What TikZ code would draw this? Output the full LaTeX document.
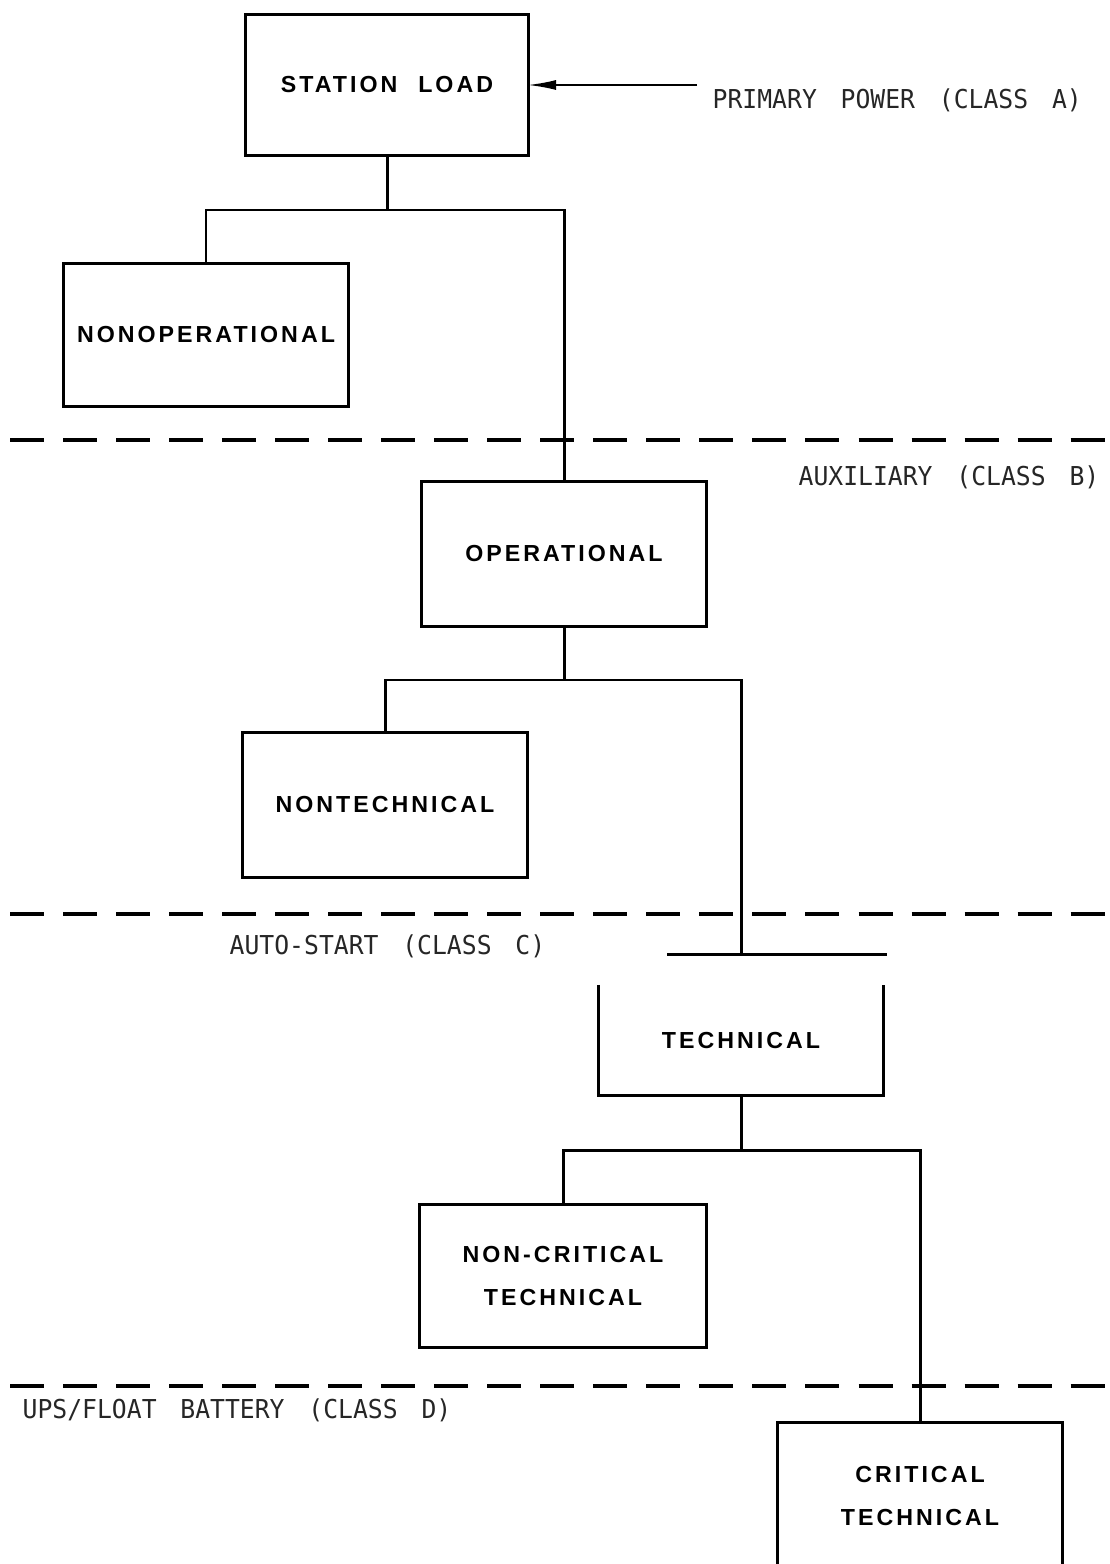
\documentclass[tikz,border=0pt]{standalone}
\usepackage{fontspec}
\setmainfont{Liberation Sans}
\newfontfamily\boxfont{Liberation Sans}[LetterSpace=13,WordSpace=2.2]
\newfontfamily\tierfont{DejaVu Sans Mono}[FakeStretch=0.95,WordSpace=1.6]
\usetikzlibrary{arrows.meta}

\tikzset{
  loadbox/.style={draw,line width=0.85pt,inner sep=0pt,outer sep=0pt,align=center,
    font=\boxfont\bfseries\fontsize{6.6}{12.4}\selectfont},
  feeder/.style={line width=0.85pt},
  tierline/.style={line width=0.9pt,dash pattern=on 0.34cm off 0.19cm},
  tierlabel/.style={inner sep=0pt,text=black!85,font=\tierfont\fontsize{7.4}{8}\selectfont}
}

\begin{document}
\begin{tikzpicture}[x=0.01cm,y=-0.01cm]
    \clip (0,0) rectangle (1110,1564);

    % load groups
    \node[loadbox,minimum width=2.82cm,minimum height=1.40cm] (station) at (387,85) {STATION LOAD};
    \node[loadbox,minimum width=2.85cm,minimum height=1.42cm] (nonop) at (206,335) {NONOPERATIONAL};
    \node[loadbox,minimum width=2.84cm,minimum height=1.44cm] (opr) at (564,554) {OPERATIONAL};
    \node[loadbox,minimum width=2.84cm,minimum height=1.44cm] (nontech) at (385,805) {NONTECHNICAL};
    \node[loadbox,draw=none,minimum width=2.84cm,minimum height=1.10cm] (tech) at (741,1040) {TECHNICAL};
    \node[loadbox,minimum width=2.86cm,minimum height=1.43cm] (noncrit) at (563,1276) {NON-CRITICAL\\TECHNICAL};
    \node[loadbox,minimum width=2.84cm,minimum height=1.46cm] (crit) at (920,1496) {CRITICAL\\TECHNICAL};

    % bus points
    \coordinate (pwr) at (697,85);
    \coordinate (bus1) at (387,210);
    \coordinate (bus2) at (564,680);
    \coordinate (tap) at (741,954);
    \coordinate (barL) at (667,954);
    \coordinate (barR) at (887,954);
    \coordinate (bus3) at (741,1150);

    \draw[line width=0.5pt,-{Latex[length=0.28cm,width=0.1cm]}] (pwr) -- (station);

    \draw[feeder] (station) -- (bus1);
    \draw[feeder] (nonop) |- (bus1) -| (opr);
    \draw[feeder] (opr) -- (bus2);
    \draw[feeder] (nontech) |- (bus2) -| (tap);
    \draw[feeder] (barL) -- (barR);
    \draw[feeder] (tech.north west) -- (tech.south west) -- (tech.south east) -- (tech.north east);
    \draw[feeder] (tech) -- (bus3);
    \draw[feeder] (noncrit) |- (bus3) -| (crit);

    % class boundaries
    \draw[tierline] (10,440) -- (1110,440);
    \draw[tierline] (10,914) -- (1110,914);
    \draw[tierline] (10,1386) -- (1110,1386);

    \node[tierlabel,anchor=west] (clsA) at (712,100) {PRIMARY POWER (CLASS A)};
    \node[tierlabel,anchor=east] (clsB) at (1100,477) {AUXILIARY (CLASS B)};
    \node[tierlabel,anchor=west] (clsC) at (229,946) {AUTO-START (CLASS C)};
    \node[tierlabel,anchor=west] (clsD) at (22,1410) {UPS/FLOAT BATTERY (CLASS D)};
\end{tikzpicture}
\end{document}
